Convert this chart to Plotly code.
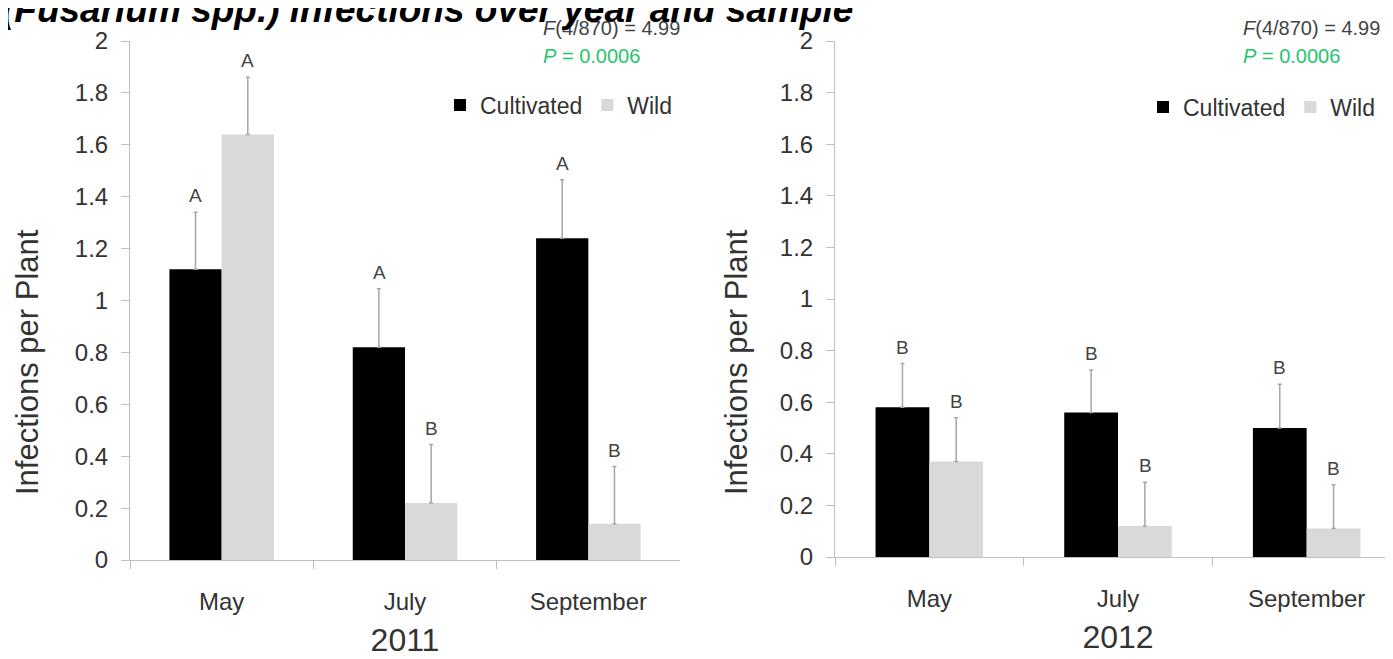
import plotly.graph_objects as go

# ---------------- data ----------------
months = ["May", "July", "September"]

cult_2011 = [1.12, 0.82, 1.24]
cult_2011_err = [0.22, 0.225, 0.225]
wild_2011 = [1.64, 0.22, 0.14]
wild_2011_err = [0.22, 0.225, 0.22]

cult_2012 = [0.58, 0.56, 0.50]
cult_2012_err = [0.17, 0.165, 0.17]
wild_2012 = [0.37, 0.12, 0.11]
wild_2012_err = [0.17, 0.17, 0.17]

letters_cult_2011 = ["A", "A", "A"]
letters_wild_2011 = ["A", "B", "B"]
letters_cult_2012 = ["B", "B", "B"]
letters_wild_2012 = ["B", "B", "B"]

ytick_vals = [0, 0.2, 0.4, 0.6, 0.8, 1.0, 1.2, 1.4, 1.6, 1.8, 2.0]
ytick_text = ["0", "0.2", "0.4", "0.6", "0.8", "1", "1.2", "1.4", "1.6", "1.8", "2"]

stat_f = "<i>F</i>(4/870) = 4.99"
stat_p = "<i>P</i> = 0.0006"
years = ["2011", "2012"]
series_names = ["Cultivated", "Wild"]
y_title = "Infections per Plant"
title_text = "<b><i>(Fusarium spp.) infections over year and sample</i></b>"

# ---------------- style ----------------
FONT = "Liberation Sans, Arial, sans-serif"
TXT = "#333333"
AX = "#bfbfbf"
BLACK = "#000000"
GREY = "#d9d9d9"
ERR = "#a6a6a6"
GREEN = "#27c46e"

W, H = 1393, 659
OFF = 8  # page offset of the plot inside the browser window

def px_x(p):
    return (p - OFF) / W

def px_y(p):
    return (H - (p - OFF)) / H

fig = go.Figure()

def err(arr):
    return dict(type="data", array=arr, arrayminus=[0] * len(arr), symmetric=False,
                color=ERR, thickness=1.5, width=2)

fig.add_trace(go.Bar(x=months, y=cult_2011, name=series_names[0], marker_color=BLACK,
                     error_y=err(cult_2011_err), xaxis="x", yaxis="y", legend="legend"))
fig.add_trace(go.Bar(x=months, y=wild_2011, name=series_names[1], marker_color=GREY,
                     error_y=err(wild_2011_err), xaxis="x", yaxis="y", legend="legend"))
fig.add_trace(go.Bar(x=months, y=cult_2012, name=series_names[0], marker_color=BLACK,
                     error_y=err(cult_2012_err), xaxis="x2", yaxis="y2", legend="legend2"))
fig.add_trace(go.Bar(x=months, y=wild_2012, name=series_names[1], marker_color=GREY,
                     error_y=err(wild_2012_err), xaxis="x2", yaxis="y2", legend="legend2"))

for tr in fig.data:
    tr.marker.line.width = 0

ann = []
def add_letters(vals, errs, letters, xref, yref, shift):
    for m, v, e, l in zip(months, vals, errs, letters):
        ann.append(dict(x=m, y=v + e, xref=xref, yref=yref, text=l, showarrow=False,
                        xshift=shift, yshift=4, yanchor="bottom",
                        font=dict(family=FONT, size=19, color="#444444")))

add_letters(cult_2011, cult_2011_err, letters_cult_2011, "x", "y", -26)
add_letters(wild_2011, wild_2011_err, letters_wild_2011, "x", "y", 26)
add_letters(cult_2012, cult_2012_err, letters_cult_2012, "x2", "y2", -27)
add_letters(wild_2012, wild_2012_err, letters_wild_2012, "x2", "y2", 27)

for xl in [541, 1241]:
    ann.append(dict(x=px_x(xl), y=px_y(28), xref="paper", yref="paper", text=stat_f,
                    showarrow=False, xanchor="left", yanchor="middle",
                    font=dict(family=FONT, size=20, color="#444444")))
    ann.append(dict(x=px_x(xl), y=px_y(56), xref="paper", yref="paper", text=stat_p,
                    showarrow=False, xanchor="left", yanchor="middle",
                    font=dict(family=FONT, size=20, color=GREEN)))

# y-axis titles (placed as in the reference, below the axis centre)
for xc in [27, 736]:
    ann.append(dict(x=px_x(xc), y=px_y(362), xref="paper", yref="paper", text=y_title,
                    showarrow=False, textangle=-90, xanchor="center", yanchor="middle",
                    font=dict(family=FONT, size=31, color=TXT)))

ann.append(dict(x=px_x(0), y=1, xref="paper", yref="paper", text=title_text, showarrow=False,
                xanchor="left", yanchor="middle", yshift=-1,
                font=dict(family=FONT, size=37, color="#000000")))

xaxis_common = dict(type="category", showline=True, linecolor=AX, linewidth=1,
                    ticks="outside", tickson="boundaries", ticklen=8, tickcolor=AX,
                    tickfont=dict(family=FONT, size=24, color=TXT), ticklabelstandoff=20,
                    showgrid=False, zeroline=False, automargin=False)
yaxis_common = dict(range=[0, 2], tickvals=ytick_vals, ticktext=ytick_text,
                    showline=True, linecolor=AX, linewidth=1, ticks="outside",
                    ticklen=8, tickcolor=AX, showgrid=False, zeroline=False,
                    tickfont=dict(family=FONT, size=24, color=TXT), ticklabelstandoff=8,
                    automargin=False)

fig.update_layout(
    width=W, height=H,
    margin=dict(l=0, r=0, t=0, b=0, autoexpand=False),
    paper_bgcolor="white", plot_bgcolor="white",
    barmode="group", bargap=0.43, bargroupgap=0,
    font=dict(family=FONT, color=TXT),
    xaxis=dict(domain=[px_x(130), px_x(680)], range=[-0.5, 2.5],
               title=dict(text=years[0], font=dict(family=FONT, size=32, color=TXT), standoff=14),
               anchor="y", **xaxis_common),
    yaxis=dict(domain=[px_y(560), px_y(41)], anchor="x", **yaxis_common),
    xaxis2=dict(domain=[px_x(835), 1.0], range=[-0.5, 2.5],
                title=dict(text=years[1], font=dict(family=FONT, size=32, color=TXT), standoff=14),
                anchor="y2", **xaxis_common),
    yaxis2=dict(domain=[px_y(557), px_y(41)], anchor="x2", **yaxis_common),
    legend=dict(orientation="h", x=px_x(440), y=px_y(105), xanchor="left", yanchor="middle",
                font=dict(family=FONT, size=23, color=TXT), bgcolor="rgba(0,0,0,0)", itemwidth=30),
    legend2=dict(orientation="h", x=px_x(1143), y=px_y(107), xanchor="left", yanchor="middle",
                 font=dict(family=FONT, size=23, color=TXT), bgcolor="rgba(0,0,0,0)", itemwidth=30),
    annotations=ann,
    showlegend=True,
)

fig.write_html("out.html")
